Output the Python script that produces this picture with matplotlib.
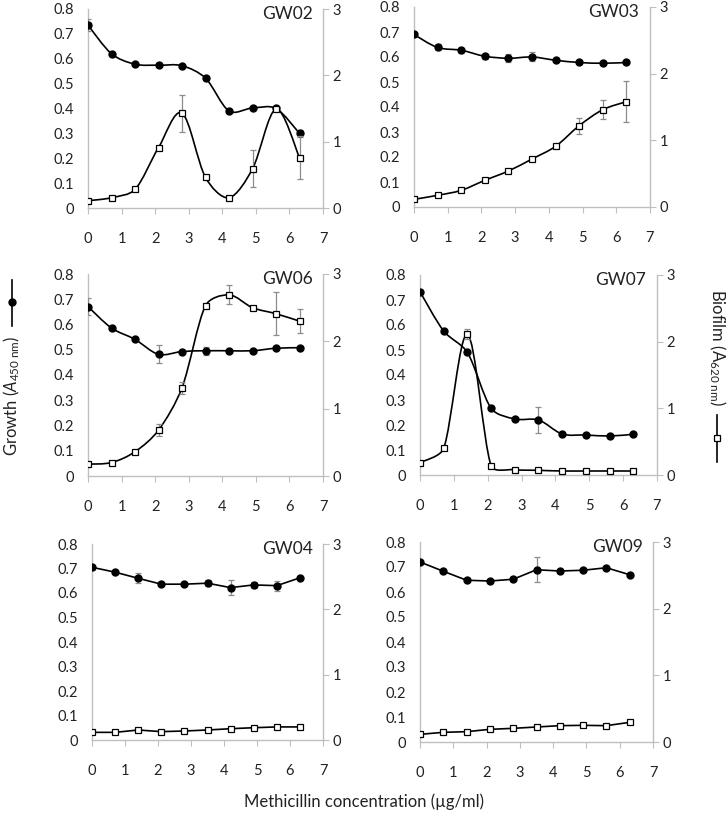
import numpy as np
import matplotlib
matplotlib.use('Agg')
import matplotlib.pyplot as plt
from matplotlib.path import Path
from matplotlib.patches import PathPatch
from matplotlib.lines import Line2D

plt.rcParams['font.family'] = ['Lato', 'DejaVu Sans']
plt.rcParams['mathtext.fontset'] = 'custom'
plt.rcParams['mathtext.rm'] = 'Lato'
plt.rcParams['mathtext.it'] = 'Lato:italic'

# Methicillin concentration (ug/ml)
conc = [0, 0.7, 1.4, 2.1, 2.8, 3.5, 4.2, 4.9, 5.6, 6.3]

names = ['GW02', 'GW03', 'GW06', 'GW07', 'GW04', 'GW09']

# growth, A450 (left axis)
growth_gw02 = [0.735, 0.62, 0.578, 0.574, 0.572, 0.522, 0.39, 0.402, 0.40, 0.30]
growth_gw03 = [0.69, 0.638, 0.627, 0.603, 0.595, 0.60, 0.587, 0.578, 0.575, 0.578]
growth_gw06 = [0.671, 0.586, 0.541, 0.482, 0.493, 0.496, 0.496, 0.496, 0.506, 0.508]
growth_gw07 = [0.733, 0.576, 0.49, 0.267, 0.224, 0.22, 0.164, 0.16, 0.156, 0.163]
growth_gw04 = [0.705, 0.685, 0.66, 0.636, 0.636, 0.64, 0.622, 0.633, 0.63, 0.662]
growth_gw09 = [0.72, 0.683, 0.647, 0.644, 0.651, 0.689, 0.684, 0.687, 0.697, 0.669]

growth_err_gw02 = [0.025, 0, 0, 0, 0, 0, 0, 0, 0, 0.015]
growth_err_gw03 = [0.005, 0.012, 0.01, 0.01, 0.015, 0.018, 0.005, 0.004, 0.005, 0.004]
growth_err_gw06 = [0.035, 0.005, 0.005, 0.035, 0.005, 0.015, 0, 0, 0.004, 0.004]
growth_err_gw07 = [0, 0, 0, 0, 0, 0.052, 0, 0, 0, 0]
growth_err_gw04 = [0.01, 0, 0.02, 0, 0, 0.012, 0.03, 0.012, 0.02, 0]
growth_err_gw09 = [0, 0, 0, 0, 0, 0.05, 0, 0, 0, 0]

# biofilm, A620 (right axis)
biofilm_gw02 = [0.11, 0.155, 0.28, 0.91, 1.43, 0.46, 0.155, 0.59, 1.49, 0.76]
biofilm_gw03 = [0.115, 0.175, 0.25, 0.40, 0.54, 0.72, 0.91, 1.22, 1.46, 1.58]
biofilm_gw06 = [0.176, 0.2, 0.36, 0.68, 1.31, 2.53, 2.69, 2.50, 2.41, 2.30]
biofilm_gw07 = [0.185, 0.40, 2.11, 0.14, 0.08, 0.07, 0.06, 0.06, 0.06, 0.06]
biofilm_gw04 = [0.117, 0.117, 0.153, 0.128, 0.138, 0.153, 0.173, 0.188, 0.2, 0.2]
biofilm_gw09 = [0.115, 0.145, 0.155, 0.19, 0.205, 0.225, 0.245, 0.25, 0.245, 0.295]

biofilm_err_gw02 = [0, 0, 0, 0, 0.28, 0, 0, 0.28, 0.03, 0.33]
biofilm_err_gw03 = [0, 0, 0, 0, 0, 0, 0, 0.12, 0.14, 0.31]
biofilm_err_gw06 = [0, 0, 0, 0.09, 0.09, 0, 0.14, 0, 0.32, 0.18]
biofilm_err_gw07 = [0, 0, 0.075, 0, 0, 0, 0, 0, 0, 0]
biofilm_err_gw04 = [0, 0, 0, 0, 0, 0, 0, 0, 0, 0]
biofilm_err_gw09 = [0, 0, 0, 0, 0, 0, 0, 0, 0, 0]

growth = [growth_gw02, growth_gw03, growth_gw06, growth_gw07, growth_gw04, growth_gw09]
growth_err = [growth_err_gw02, growth_err_gw03, growth_err_gw06,
              growth_err_gw07, growth_err_gw04, growth_err_gw09]
biofilm = [biofilm_gw02, biofilm_gw03, biofilm_gw06, biofilm_gw07, biofilm_gw04, biofilm_gw09]
biofilm_err = [biofilm_err_gw02, biofilm_err_gw03, biofilm_err_gw06,
               biofilm_err_gw07, biofilm_err_gw04, biofilm_err_gw09]
smooth = [True, True, True, True, False, False]

# panel rectangles in figure pixels: left, top, right, bottom
W, H = 728, 813
boxes = [(88, 9, 323, 208), (414, 7, 650, 207),
         (88, 274, 323, 476), (420, 275, 657, 475),
         (92, 544, 323, 740), (420, 542, 653, 742)]

GRAY = '#bfbfbf'
TXT = '#222222'


def curve(x, y, smoothed, sx, sy):
    # Excel-like smoothed line, built in pixel space then scaled back to data
    p = np.column_stack([np.asarray(x) * sx, np.asarray(y) * sy]).astype(float)
    back = np.array([sx, sy])
    if not smoothed:
        return Path(p / back)
    n = len(p)
    tang = [(p[min(i + 1, n - 1)] - p[max(i - 1, 0)]) / 6 for i in range(n)]

    def capped(t, seg):
        L = np.hypot(*t)
        lim = seg / 3
        return t if L <= lim or L == 0 else t * lim / L

    verts = [p[0]]
    codes = [Path.MOVETO]
    for i in range(n - 1):
        seg = np.hypot(*(p[i + 1] - p[i]))
        verts += [p[i] + capped(tang[i], seg), p[i + 1] - capped(tang[i + 1], seg), p[i + 1]]
        codes += [Path.CURVE4] * 3
    return Path(np.array(verts) / back, codes)


fig = plt.figure(figsize=(W / 100, H / 100), dpi=100)

for k in range(6):
    l, t, r, b = boxes[k]
    ax = fig.add_axes([l / W, 1 - b / H, (r - l) / W, (b - t) / H])
    ax2 = ax.twinx()
    sx = (r - l) / 7
    sy1 = (b - t) / 0.8
    sy2 = (b - t) / 3

    ax.set_xlim(0, 7)
    ax.set_ylim(0, 0.8)
    ax.set_xticks(range(8))
    ax.set_yticks(np.arange(0, 0.81, 0.1))
    ax.set_yticklabels(['0'] + ['%.1f' % v for v in np.arange(0.1, 0.81, 0.1)])
    ax2.set_ylim(0, 3)
    ax2.set_yticks([0, 1, 2, 3])

    for a in (ax, ax2):
        for s in a.spines.values():
            s.set_color(GRAY)
            s.set_linewidth(1.0)
        a.spines['top'].set_visible(False)
        a.patch.set_visible(False)
    ax.spines['right'].set_visible(False)
    ax2.spines['left'].set_visible(False)
    ax2.spines['bottom'].set_visible(False)

    ax.tick_params(axis='x', direction='out', length=4, color=GRAY,
                   labelsize=10.5, labelcolor=TXT, pad=13)
    ax.tick_params(axis='y', length=0, labelsize=10.5, labelcolor=TXT, pad=10)
    ax2.tick_params(axis='y', direction='out', length=4, color=GRAY,
                    labelsize=10.5, labelcolor=TXT, pad=3)

    # growth (filled circles)
    ax.add_patch(PathPatch(curve(conc, growth[k], smooth[k], sx, sy1), facecolor='none',
                           edgecolor='black', lw=1.2, zorder=2))
    ax.errorbar(conc, growth[k], yerr=growth_err[k], fmt='none', ecolor='#8c8c8c',
                elinewidth=0.9, capsize=2, capthick=0.9, zorder=3)
    ax.plot(conc, growth[k], 'o', color='black', ms=5, zorder=4)

    # biofilm (open squares)
    ax2.add_patch(PathPatch(curve(conc, biofilm[k], smooth[k], sx, sy2), facecolor='none',
                            edgecolor='black', lw=1.2, zorder=2))
    ax2.errorbar(conc, biofilm[k], yerr=biofilm_err[k], fmt='none', ecolor='#8c8c8c',
                 elinewidth=0.9, capsize=2, capthick=0.9, zorder=3)
    ax2.plot(conc, biofilm[k], 's', mfc='white', mec='black', mew=0.9, ms=5, zorder=4)

    ax.text(0.955, 0.975, names[k], transform=ax.transAxes, ha='right', va='center',
            fontsize=12.5, color=TXT)

# axis titles
fig.text(364 / W, 1 - 802 / H, 'Methicillin concentration (µg/ml)', ha='center',
         va='center', fontsize=12, color=TXT)
fig.text(12 / W, 1 - 396 / H, r'Growth ($\mathit{A}_{\mathrm{450\ nm}}$)', rotation=90,
         ha='center', va='center', fontsize=12, color=TXT)
fig.text(717 / W, 1 - 348 / H, r'Biofilm (A$_{\mathrm{620\ nm}}$)', rotation=270,
         ha='center', va='center', fontsize=12, color=TXT)

# legend keys next to the axis titles
fig.add_artist(Line2D([12 / W, 12 / W], [1 - 280 / H, 1 - 326 / H], color='black', lw=1.2))
fig.add_artist(Line2D([12 / W], [1 - 302 / H], marker='o', color='black', ms=5))
fig.add_artist(Line2D([717 / W, 717 / W], [1 - 415 / H, 1 - 462 / H], color='black', lw=1.2))
fig.add_artist(Line2D([717 / W], [1 - 438 / H], marker='s', mfc='white', mec='black',
                      mew=0.9, ms=5))

fig.savefig('out.png', dpi=100)
